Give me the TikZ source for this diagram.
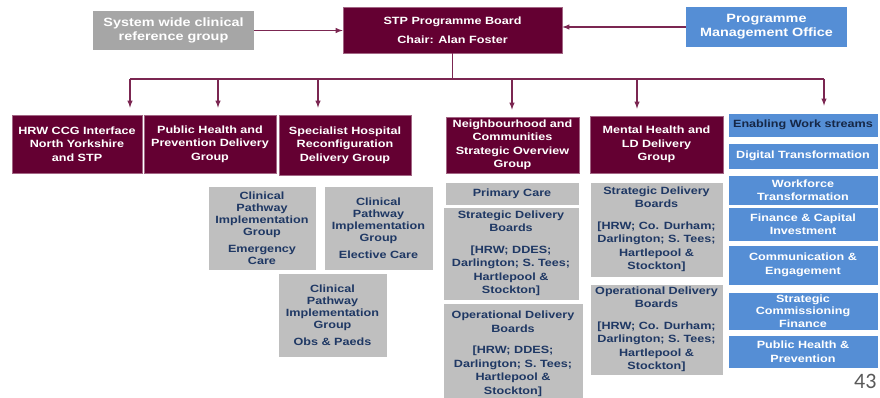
\documentclass[tikz,border=0pt]{standalone}
\usepackage{fontspec}
\setmainfont{Liberation Sans}[FakeStretch=1.2]
\newfontfamily\pagefont{Carlito}
\usepackage{xcolor}
\usetikzlibrary{positioning}
\definecolor{stpred}{HTML}{640032}
\definecolor{pmoblue}{HTML}{558ED5}
\definecolor{boxgrey}{HTML}{BFBFBF}
\definecolor{refgrey}{HTML}{A6A6A6}
\definecolor{navytext}{HTML}{1F3864}
\definecolor{pagegrey}{HTML}{595959}

\begin{document}
\begin{tikzpicture}[->,>=latex,x=1pt,y=-1pt,
    every node/.style={font=\bfseries\fontsize{10.5}{13.5}\selectfont,align=center,inner sep=1pt},
    redbox/.style={fill=stpred,draw=stpred!60!white,line width=0.6pt,text=white},
    greybox/.style={fill=boxgrey,draw=white,line width=0.8pt,text=navytext},
    bluebox/.style={fill=pmoblue,draw=white,line width=0.8pt,text=white,minimum width=150pt},
    link/.style={draw=stpred!85!white,line width=1.4pt}]
  \useasboundingbox (0,0) rectangle (880,398);

  % top row
  \node[fill=refgrey,text=white,minimum width=161pt,minimum height=39pt,
        font=\bfseries\fontsize{12}{14}\selectfont] (sys) at (173.5,30.5)
        {System wide clinical\\reference group};
  \node[redbox,minimum width=219pt,minimum height=46pt] (stp) at (452.5,30)
        {STP Programme Board\\[6pt]Chair: Alan Foster};
  \node[fill=pmoblue,text=white,minimum width=161pt,minimum height=40pt,
        font=\bfseries\fontsize{12}{14}\selectfont] (pmo) at (766.5,27)
        {Programme\\Management Office};

  \draw[link] (sys.east) -- (sys.east -| stp.west);
  \draw[link] (pmo.west) -- (pmo.west -| stp.east);

  % delivery groups
  \node[redbox,minimum width=130pt,minimum height=58pt] (hrw) at (77,144)
        {HRW CCG Interface\\North Yorkshire\\and STP};
  \node[redbox,minimum width=132pt,minimum height=58pt] (phd) at (210,144)
        {Public Health and\\Prevention Delivery\\Group};
  \node[redbox,minimum width=132pt,minimum height=60pt] (shr) at (345,145)
        {Specialist Hospital\\Reconfiguration\\Delivery Group};
  \node[redbox,minimum width=133pt,minimum height=56pt,inner sep=0pt] (nbh) at (512.5,145)
        {Neighbourhood and\\Communities\\Strategic Overview\\Group};
  \node[redbox,minimum width=133pt,minimum height=57pt] (mhd) at (656.5,144.5)
        {Mental Health and\\LD Delivery\\Group};

  % enabling work streams
  \node[bluebox,text=navytext!70!black,minimum height=24pt] (ews) at (803,125) {Enabling Work streams};
  \node[bluebox,minimum height=26pt] (dig) at (803,156) {Digital Transformation};
  \node[bluebox,minimum height=30pt] (wft) at (803,190) {Workforce\\Transformation};
  \node[bluebox,minimum height=34pt] (fci) at (803,224) {Finance \& Capital\\Investment};
  \node[bluebox,minimum height=40pt] (cen) at (803,265) {Communication \&\\Engagement};
  \node[bluebox,minimum height=38pt,font=\bfseries\fontsize{10.5}{12.5}\selectfont] (scf) at (803,311)
        {Strategic\\Commissioning\\Finance};
  \node[bluebox,minimum height=33pt] (php) at (803,351.5) {Public Health \&\\Prevention};

  % clinical pathway groups
  \node[greybox,minimum width=108pt,minimum height=84pt,font=\bfseries\fontsize{10.5}{12}\selectfont] (cpe) at (262,228)
        {Clinical\\Pathway\\Implementation\\Group\\[5pt]Emergency\\Care};
  \node[greybox,minimum width=109pt,minimum height=84pt,font=\bfseries\fontsize{10.5}{12}\selectfont] (cpel) at (378.5,228)
        {Clinical\\Pathway\\Implementation\\Group\\[5pt]Elective Care};
  \node[greybox,minimum width=109pt,minimum height=84pt,font=\bfseries\fontsize{10.5}{12}\selectfont] (cpo) at (332.5,315)
        {Clinical\\Pathway\\Implementation\\Group\\[5pt]Obs \& Paeds};

  % local boards
  \node[greybox,minimum width=134pt,minimum height=23pt] (pc) at (512,193.5) {Primary Care};
  \node[greybox,minimum width=136pt,minimum height=93pt] (sdbn) at (511,253.5)
        {Strategic Delivery\\Boards\\[8pt][HRW; DDES;\\Darlington;  S. Tees;\\Hartlepool \&\\Stockton]};
  \node[greybox,minimum width=140pt,minimum height=102pt] (odbn) at (513,354)
        {Operational Delivery\\Boards\\[8pt][HRW; DDES;\\Darlington;  S. Tees;\\Hartlepool \&\\Stockton]};
  \node[greybox,minimum width=133pt,minimum height=95pt] (sdbm) at (656.5,229.5)
        {Strategic Delivery\\Boards\\[8pt][HRW; Co. Durham;\\Darlington;  S. Tees;\\Hartlepool \&\\Stockton]};
  \node[greybox,minimum width=133pt,minimum height=91pt] (odbm) at (656.5,329.5)
        {Operational Delivery\\Boards\\[8pt][HRW; Co. Durham;\\Darlington;  S. Tees;\\Hartlepool \&\\Stockton]};

  % board to groups
  \coordinate (busL) at (130,79);
  \coordinate (busR) at (824,79);
  \draw[link,-] (stp.south) -- (stp.south |- busL);
  \draw[link,-] (busL) -- (busR);
  \foreach \x/\grp in {130/hrw,218/phd,318/shr,512/nbh,637/mhd,824/ews}
    \draw[link,shorten >=7pt] (\x,79) -- (\x,79 |- \grp.north);

  \node[font=\pagefont\fontsize{22}{22}\selectfont,text=pagegrey,anchor=base west] (pg) at (853,388) {43};
\end{tikzpicture}
\end{document}
